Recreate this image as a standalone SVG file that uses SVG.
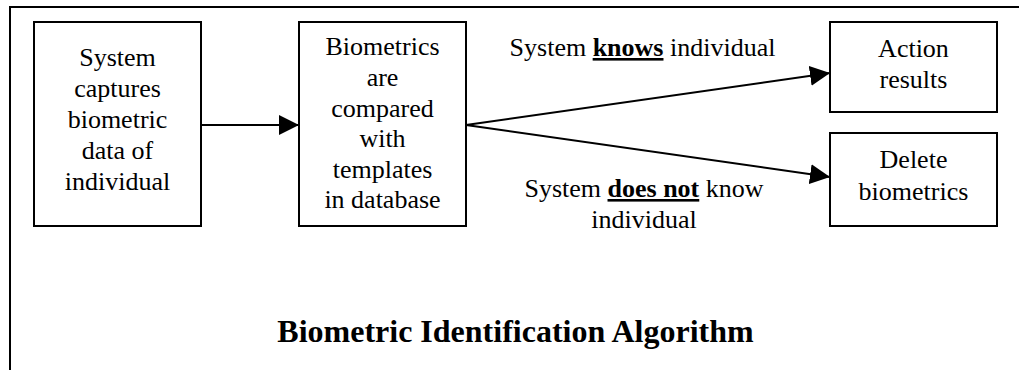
<svg xmlns="http://www.w3.org/2000/svg" width="1019" height="370" viewBox="0 0 1019 370">
<style>
.box{fill:#fff;stroke:#000;stroke-width:2}
.t{font-family:"Liberation Serif","Times New Roman",serif;font-size:26px;fill:#000;text-anchor:middle}
.b{font-weight:bold}
.u{font-weight:bold;text-decoration:underline;text-decoration-thickness:2.5px}
.edge{stroke:#000;stroke-width:2;fill:none;marker-end:url(#ah)}
.title{font-family:"Liberation Serif","Times New Roman",serif;font-size:32px;font-weight:bold;text-anchor:middle;fill:#000}
</style>
<defs>
<marker id="ah" viewBox="0 0 20 20" refX="20" refY="10" markerWidth="20" markerHeight="20" markerUnits="userSpaceOnUse" orient="auto">
<path d="M0,0 L20,10 L0,20 Z" fill="#000"/>
</marker>
</defs>
<rect width="1019" height="370" fill="#fff"/>
<g id="frame">
<path d="M1019,7 L10,7 L10,370" fill="none" stroke="#000" stroke-width="2"/>
</g>
<g id="connectors">
<line class="edge" x1="201" y1="125" x2="299" y2="125"/>
<line class="edge" x1="466" y1="125" x2="830" y2="73"/>
<line class="edge" x1="466" y1="125" x2="830" y2="177"/>
</g>
<g id="node-capture">
<rect class="box" x="34" y="22" width="167" height="204"/>
<text class="t" x="117.5" y="66">System</text>
<text class="t" x="117.5" y="97">captures</text>
<text class="t" x="117.5" y="128">biometric</text>
<text class="t" x="117.5" y="159">data of</text>
<text class="t" x="117.5" y="190">individual</text>
</g>
<g id="node-compare">
<rect class="box" x="299" y="22" width="167" height="204"/>
<text class="t" x="382.5" y="55">Biometrics</text>
<text class="t" x="382.5" y="86">are</text>
<text class="t" x="382.5" y="116.5">compared</text>
<text class="t" x="382.5" y="147">with</text>
<text class="t" x="382.5" y="178">templates</text>
<text class="t" x="382.5" y="208">in database</text>
</g>
<g id="node-action">
<rect class="box" x="830" y="22" width="167" height="90"/>
<text class="t" x="913.5" y="57">Action</text>
<text class="t" x="913.5" y="88">results</text>
</g>
<g id="node-delete">
<rect class="box" x="830" y="133" width="167" height="93"/>
<text class="t" x="913.5" y="168">Delete</text>
<text class="t" x="913.5" y="200">biometrics</text>
</g>
<g id="labels">
<text class="t" x="642.5" y="56">System <tspan class="u">knows</tspan> individual</text>
<text class="t" x="644" y="197">System <tspan class="u">does not</tspan> know</text>
<text class="t" x="644" y="228">individual</text>
</g>
<g id="title">
<text class="title" x="515.5" y="342">Biometric Identification Algorithm</text>
</g>
</svg>
